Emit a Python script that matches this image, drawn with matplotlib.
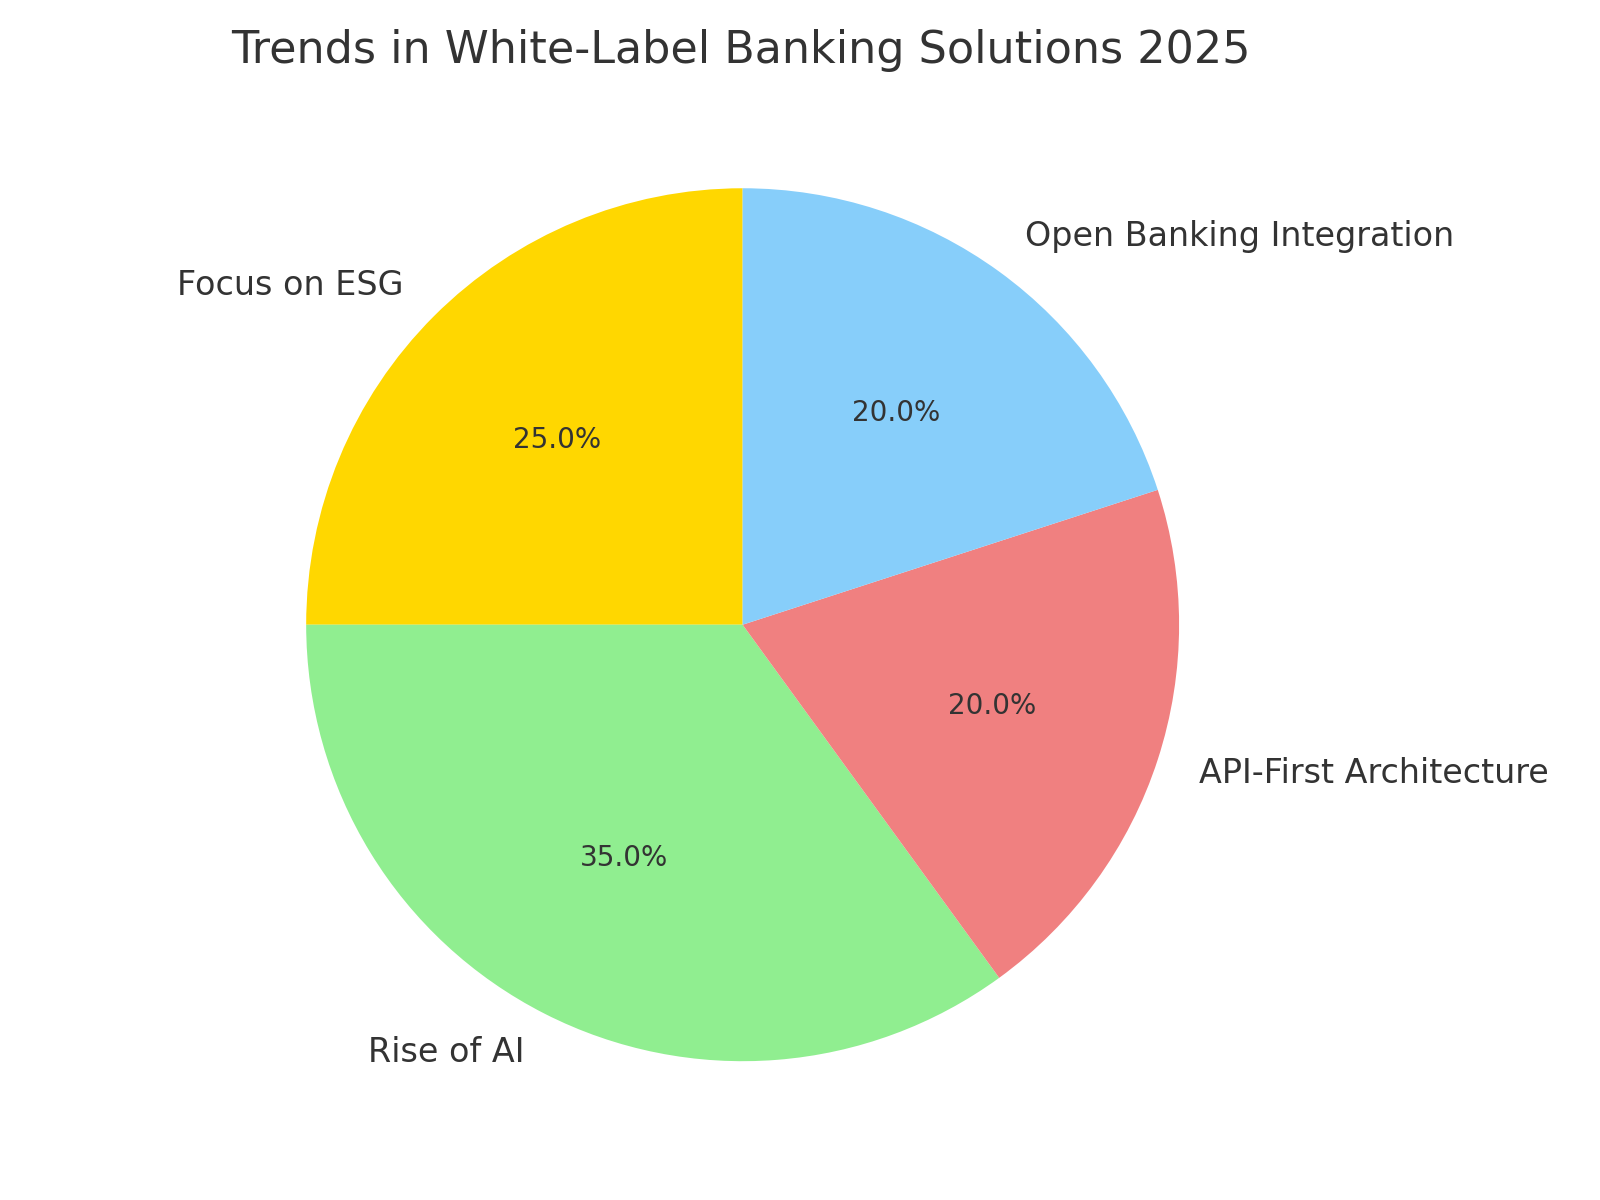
import matplotlib
matplotlib.use("Agg")
import matplotlib.pyplot as plt

# data
labels = ["Focus on ESG", "Rise of AI", "API-First Architecture", "Open Banking Integration"]
shares = [25, 35, 20, 20]
colors = ["gold", "lightgreen", "lightcoral", "lightskyblue"]

fig = plt.figure(figsize=(8, 6), dpi=200)
ax = fig.add_axes([0.1368, 0.0429, 0.6547, 0.873])

wedges, texts, autotexts = ax.pie(
    shares, labels=labels, colors=colors, autopct="%1.1f%%", startangle=90,
    textprops={"color": "#333333"},
)
for t in texts:
    t.set_fontsize(12)
for t in autotexts:
    t.set_fontsize(10)

ax.set_xlim(-1.2, 1.2)
ax.set_ylim(-1.2, 1.2)
ax.set_aspect("equal")

fig.text(741 / 1600, 1 - 50 / 1200, "Trends in White-Label Banking Solutions 2025",
         ha="center", va="center", fontsize=16, color="#333333")

fig.savefig("out.png", dpi=200)
